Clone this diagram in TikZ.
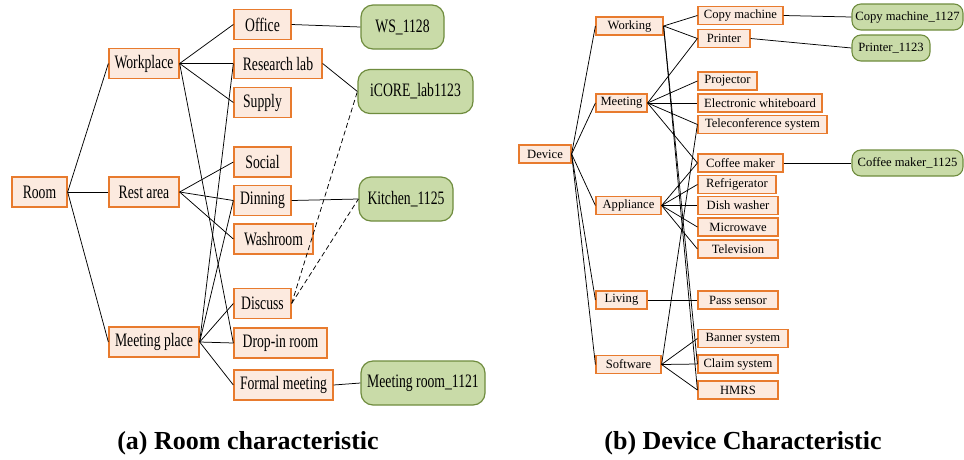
\documentclass[tikz,border=0pt]{standalone}
\usepackage{fontspec}
\setmainfont{Liberation Serif}
\newfontfamily\condserif[FakeStretch=0.72]{Liberation Serif}
\definecolor{boxorange}{HTML}{E87B2E}
\definecolor{boxfill}{HTML}{FCEADF}
\definecolor{gfill}{HTML}{C9DBA8}
\definecolor{gborder}{HTML}{6F8C3E}
\tikzset{
  ob/.style={draw=boxorange, fill=boxfill, line width=1.3pt, inner sep=0pt, minimum height=30pt, font=\condserif\fontsize{19}{19}\selectfont},
  obs/.style={draw=boxorange, fill=boxfill, line width=1.2pt, inner sep=0pt, minimum height=18pt, font=\fontsize{12.6}{13}\selectfont},
  gb/.style={draw=gborder, fill=gfill, line width=1.2pt, rounded corners=12pt, inner sep=0pt, minimum height=44pt, font=\condserif\fontsize{19}{19}\selectfont},
  gbs/.style={draw=gborder, fill=gfill, line width=1.1pt, rounded corners=9pt, inner sep=0pt, minimum height=26pt, font=\fontsize{12.6}{13}\selectfont},
  con/.style={draw=black, line width=0.75pt},
  dcon/.style={draw=black, line width=0.75pt, dash pattern=on 5pt off 3pt},
  captext/.style={font=\fontsize{26}{28}\selectfont\bfseries, inner sep=0pt}
}
\begin{document}
\begin{tikzpicture}[x=1pt,y=-1pt]
\useasboundingbox[fill=white] (0,0) rectangle (964,459);
% ---------- (a) ----------
\node[ob, minimum width=55pt] (room) at (39.5,192) {Room};
\node[ob, minimum width=70pt] (workplace) at (144,63.5) {Workplace};
\node[ob, minimum width=70pt] (rest) at (144,192) {Rest area};
\node[ob, minimum width=90pt] (meetp) at (154,342) {Meeting place};
\node[ob, minimum width=57pt] (office) at (262.5,24.5) {Office};
\node[ob, minimum width=88pt] (research) at (278,63.5) {Research lab};
\node[ob, minimum width=57pt] (supply) at (262.5,102.5) {Supply};
\node[ob, minimum width=57pt] (social) at (262.5,162) {Social};
\node[ob, minimum width=57pt] (dinning) at (262.5,200.5) {Dinning};
\node[ob, minimum width=79pt] (washroom) at (273.5,239) {Washroom};
\node[ob, minimum width=57pt] (discuss) at (262.5,303.5) {Discuss};
\node[ob, minimum width=93pt] (dropin) at (280.5,343) {Drop-in room};
\node[ob, minimum width=99pt] (formal) at (283.5,385) {Formal meeting};
\node[gb, minimum width=83pt] (ws) at (402.5,27) {WS\_1128};
\node[gb, minimum width=115pt] (icore) at (415.5,91.5) {iCORE\_lab1123};
\node[gb, minimum width=94pt] (kitchen) at (406,199) {Kitchen\_1125};
\node[gb, minimum width=124pt] (mroom) at (423,383) {Meeting room\_1121};

\draw[con] (room.east) -- (workplace.west);
\draw[con] (room.east) -- (rest.west);
\draw[con] (room.east) -- (meetp.west);
\draw[con] (workplace.east) -- (office.west);
\draw[con] (workplace.east) -- (research.west);
\draw[con] (workplace.east) -- (supply.west);
\draw[con] (workplace.east) -- (dropin.west);
\draw[con] (rest.east) -- (social.west);
\draw[con] (rest.east) -- (dinning.west);
\draw[con] (rest.east) -- (washroom.west);
\draw[con] (meetp.east) -- (research.west);
\draw[con] (meetp.east) -- (dinning.west);
\draw[con] (meetp.east) -- (discuss.west);
\draw[con] (meetp.east) -- (dropin.west);
\draw[con] (meetp.east) -- (formal.west);
\draw[con] (office.east) -- (ws.west);
\draw[con] (research.east) -- (icore.west);
\draw[con] (dinning.east) -- (kitchen.west);
\draw[con] (formal.east) -- (mroom.west);
\draw[dcon] (discuss.east) -- (icore.west);
\draw[dcon] (discuss.east) -- (kitchen.west);

% ---------- (b) ----------
\node[obs, minimum width=52pt] (device) at (545,154) {Device};
\node[obs, minimum width=67pt] (working) at (629.5,26) {Working};
\node[obs, minimum width=51pt] (meeting) at (621.5,103) {Meeting};
\node[obs, minimum width=65pt] (appliance) at (628.5,205.5) {Appliance};
\node[obs, minimum width=51pt] (living) at (621.5,300) {Living};
\node[obs, minimum width=65pt] (software) at (628.5,364.5) {Software};

\node[obs, minimum width=85pt] (copy) at (740.5,15.5) {Copy machine};
\node[obs, minimum width=52pt] (printer) at (724,38.5) {Printer};
\node[obs, minimum width=59pt] (projector) at (727.5,81) {Projector};
\node[obs, minimum width=124pt] (ewb) at (760,103) {Electronic whiteboard};
\node[obs, minimum width=129pt] (tele) at (762.5,124.5) {Teleconference system};
\node[obs, minimum width=85pt] (coffee) at (740.5,163) {Coffee maker};
\node[obs, minimum width=78pt] (fridge) at (737,184.5) {Refrigerator};
\node[obs, minimum width=80pt] (dish) at (738,205.5) {Dish washer};
\node[obs, minimum width=80pt] (micro) at (738,227) {Microwave};
\node[obs, minimum width=80pt] (tv) at (738,249) {Television};
\node[obs, minimum width=80pt] (pass) at (738,300) {Pass sensor};
\node[obs, minimum width=90pt] (banner) at (743,338.5) {Banner system};
\node[obs, minimum width=80pt] (claim) at (738,364) {Claim system};
\node[obs, minimum width=80pt] (hmrs) at (738,390) {HMRS};

\node[gbs, minimum width=111pt] (copyg) at (907.5,17) {Copy machine\_1127};
\node[gbs, minimum width=78pt] (printg) at (891,48) {Printer\_1123};
\node[gbs, minimum width=111pt] (coffeeg) at (907.5,163) {Coffee maker\_1125};

\foreach \t in {working,meeting,appliance,living,software}
  \draw[con] (device.east) -- (\t.west);
\foreach \t in {copy,printer,claim,hmrs}
  \draw[con] (working.east) -- (\t.west);
\foreach \t in {printer,projector,ewb,tele,coffee}
  \draw[con] (meeting.east) -- (\t.west);
\foreach \t in {coffee,fridge,dish,micro,tv}
  \draw[con] (appliance.east) -- (\t.west);
\draw[con] (living.east) -- (pass.west);
\foreach \t in {tele,banner,claim,hmrs}
  \draw[con] (software.east) -- (\t.west);
\draw[con] (copy.east) -- (copyg.west);
\draw[con] (printer.east) -- (printg.west);
\draw[con] (coffee.east) -- (coffeeg.west);

% captions
\node[captext] (capa) at (248,443) {(a) Room characteristic};
\node[captext] (capb) at (743,443) {(b) Device Characteristic};
\end{tikzpicture}
\end{document}
